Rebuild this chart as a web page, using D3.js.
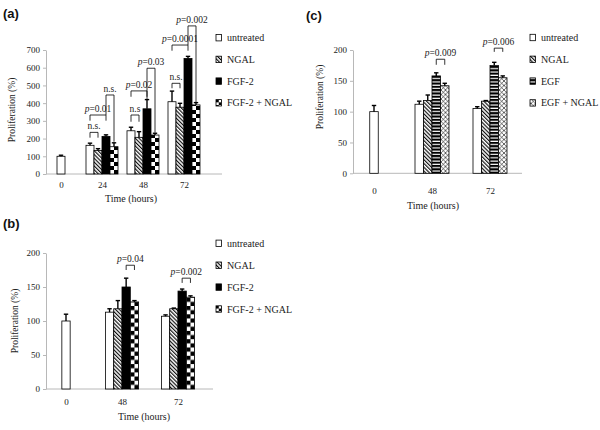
<!DOCTYPE html>
<html><head><meta charset="utf-8">
<script src="https://cdn.jsdelivr.net/npm/d3@7"></script>
<style>body{margin:0;background:#fff} svg{display:block} text{font-family:"Liberation Serif","Times New Roman",serif}</style>
</head><body><svg id="chart" width="600" height="430"></svg>
<script>
// ---------- DATA ----------
// Panel (a)
const hoursA = ["0","24","48","72"];
const seriesA = ["untreated","NGAL","FGF-2","FGF-2 + NGAL"];
const untreatedA = [100,162,244,408];
const untreatedErrA = [6,12,20,60];
const ngalA = [null,133,207,377];
const ngalErrA = [null,10,32,22];
const fgf2A = [null,212,368,652];
const fgf2ErrA = [null,9,52,12];
const fgf2NgalA = [null,154,220,390];
const fgf2NgalErrA = [null,22,10,13];
const yTicksA = [0,100,200,300,400,500,600,700];
const bracketsA = [
  {hour:"24", from:0, to:1, top:235, leftEnd:205, rightEnd:205, label:"n.s."},
  {hour:"24", from:0, to:2, top:333, leftEnd:301, rightEnd:301, label:"p=0.01"},
  {hour:"24", from:2, to:3, top:446, leftEnd:333, rightEnd:182, label:"n.s."},
  {hour:"48", from:0, to:1, top:333, leftEnd:295, rightEnd:295, label:"n.s"},
  {hour:"48", from:0, to:2, top:469, leftEnd:436, rightEnd:436, label:"p=0.02"},
  {hour:"48", from:2, to:3, top:597, leftEnd:422, rightEnd:233, label:"p=0.03"},
  {hour:"72", from:0, to:1, top:512, leftEnd:484, rightEnd:484, label:"n.s."},
  {hour:"72", from:0, to:2, top:728, leftEnd:696, rightEnd:696, label:"p=0.0001"},
  {hour:"72", from:2, to:3, top:836, leftEnd:728, rightEnd:401, label:"p=0.002"}
];
// Panel (b)
const hoursB = ["0","48","72"];
const seriesB = ["untreated","NGAL","FGF-2","FGF-2 + NGAL"];
const untreatedB = [100,113,107];
const untreatedErrB = [10,5,2];
const ngalB = [null,118,118];
const ngalErrB = [null,12,1];
const fgf2B = [null,150,144];
const fgf2ErrB = [null,13,3];
const fgf2NgalB = [null,128,135];
const fgf2NgalErrB = [null,2,2];
const yTicksB = [0,50,100,150,200];
const bracketsB = [
  {hour:"48", from:2, to:3, top:182, leftEnd:175, rightEnd:175, label:"p=0.04"},
  {hour:"72", from:2, to:3, top:163, leftEnd:156, rightEnd:156, label:"p=0.002"}
];
// Panel (c)
const hoursC = ["0","48","72"];
const seriesC = ["untreated","NGAL","EGF","EGF + NGAL"];
const untreatedC = [100,112,105];
const untreatedErrC = [10,5,3];
const ngalC = [null,118,117];
const ngalErrC = [null,9,1];
const egfC = [null,158,175];
const egfErrC = [null,5,5];
const egfNgalC = [null,142,155];
const egfNgalErrC = [null,4,3];
const yTicksC = [0,50,100,150,200];
const bracketsC = [
  {hour:"48", from:2, to:3, top:185, leftEnd:176, rightEnd:176, label:"p=0.009"},
  {hour:"72", from:2, to:3, top:203, leftEnd:197, rightEnd:197, label:"p=0.006"}
];

// ---------- DRAWING ----------
const svg = d3.select("#chart");
const defs = svg.append("defs");
const SERIF = "'Liberation Serif','Times New Roman',serif";

(function(){
  const p = defs.append("pattern").attr("id","hatch").attr("patternUnits","userSpaceOnUse")
    .attr("width",2.7).attr("height",2.7).attr("patternTransform","rotate(-45)");
  p.append("rect").attr("width",2.7).attr("height",2.7).attr("fill","#fff");
  p.append("line").attr("x1",0.6).attr("x2",0.6).attr("y1",0).attr("y2",2.7)
    .attr("stroke","#000").attr("stroke-width",1.1);
  const s = defs.append("pattern").attr("id","hstripe").attr("patternUnits","userSpaceOnUse")
    .attr("width",4).attr("height",3.3);
  s.append("rect").attr("width",4).attr("height",3.3).attr("fill","#fff");
  s.append("rect").attr("width",4).attr("height",2.1).attr("fill","#000");
  const x = defs.append("pattern").attr("id","xhatch").attr("patternUnits","userSpaceOnUse")
    .attr("width",4.5).attr("height",4.5);
  x.append("rect").attr("width",4.5).attr("height",4.5).attr("fill","#fff");
  x.append("path").attr("d","M0,0L4.5,4.5M4.5,0L0,4.5").attr("stroke","#000").attr("stroke-width",0.6);
})();
let chk = 0;
function checker(x, y, size){
  const id = "chk" + (chk++);
  const p = defs.append("pattern").attr("id",id).attr("patternUnits","userSpaceOnUse")
    .attr("x",x).attr("y",y).attr("width",size*2).attr("height",size*2);
  p.append("rect").attr("width",size*2).attr("height",size*2).attr("fill","#fff");
  p.append("rect").attr("width",size).attr("height",size).attr("fill","#000");
  p.append("rect").attr("x",size).attr("y",size).attr("width",size).attr("height",size).attr("fill","#000");
  return "url(#" + id + ")";
}
function fillFor(kind, x, y, w){
  if (kind === "white") return "#fff";
  if (kind === "hatch") return "url(#hatch)";
  if (kind === "black") return "#000";
  if (kind === "checker") return checker(x, y, w/2);
  if (kind === "hstripe") return "url(#hstripe)";
  if (kind === "xhatch") return "url(#xhatch)";
}
function serif(sel, size){
  return sel.style("font-family",SERIF).style("font-size",size+"px").attr("fill","#222");
}

const panels = [
  { label:"(a)", labelPos:[3,17.5], cats:hoursA, names:seriesA,
    values:[untreatedA,ngalA,fgf2A,fgf2NgalA], errs:[untreatedErrA,ngalErrA,fgf2ErrA,fgf2NgalErrA],
    kinds:["white","hatch","black","checker"], brackets:bracketsA, ticks:yTicksA,
    xr:[61,184], ydom:[0,700], yr:[174,50], axisX:[46,222], bw:8,
    yTitle:[12,110], xTitle:[131,202], xPad:8, legend:[216,37.7,21.7] },
  { label:"(b)", labelPos:[3,227.5], cats:hoursB, names:seriesB,
    values:[untreatedB,ngalB,fgf2B,fgf2NgalB], errs:[untreatedErrB,ngalErrB,fgf2ErrB,fgf2NgalErrB],
    kinds:["white","hatch","black","checker"], brackets:bracketsB, ticks:yTicksB,
    xr:[66,178], ydom:[0,200], yr:[389,253], axisX:[46,213], bw:8.3,
    yTitle:[15,321], xTitle:[144,419.5], xPad:9.5, legend:[216,243.3,21.9] },
  { label:"(c)", labelPos:[306,19.5], cats:hoursC, names:seriesC,
    values:[untreatedC,ngalC,egfC,egfNgalC], errs:[untreatedErrC,ngalErrC,egfErrC,egfNgalErrC],
    kinds:["white","hatch","hstripe","xhatch"], brackets:bracketsC, ticks:yTicksC,
    xr:[374,490], ydom:[0,200], yr:[173.3,50], axisX:[353,522], bw:8.5,
    yTitle:[320,97], xTitle:[433,209], xPad:14, legend:[530,37.5,21.8] }
];

panels.forEach(P => {
  const g = svg.append("g");
  const x = d3.scalePoint().domain(P.cats).range(P.xr);
  const y = d3.scaleLinear().domain(P.ydom).range(P.yr);
  const bw = P.bw;

  const ya = g.append("g").attr("transform",`translate(${P.axisX[0]},0)`)
    .call(d3.axisLeft(y).tickValues(P.ticks).tickSize(3).tickSizeOuter(0).tickPadding(3));
  ya.select(".domain").attr("stroke","#b8b8b8");
  ya.selectAll(".tick line").attr("stroke","#b8b8b8");
  serif(ya.selectAll("text"), 9);

  const xa = g.append("g").attr("transform",`translate(0,${y(0)})`)
    .call(d3.axisBottom(x).tickSize(0).tickPadding(P.xPad));
  xa.select(".domain").remove();
  serif(xa.selectAll("text"), 9);
  g.append("line").attr("x1",P.axisX[0]).attr("x2",P.axisX[1]).attr("y1",y(0)).attr("y2",y(0))
    .attr("stroke","#b8b8b8").attr("stroke-width",1);

  const barPos = {};
  P.cats.forEach((c, ci) => {
    const idx = P.values.map((arr,si)=>arr[ci]==null?null:si).filter(v=>v!=null);
    const start = x(c) - idx.length*bw/2;
    barPos[c] = {};
    idx.forEach((si, k) => {
      const v = P.values[si][ci], e = P.errs[si][ci];
      const bx = start + k*bw;
      barPos[c][si] = bx + bw/2;
      g.append("rect").attr("x",bx).attr("y",y(v)).attr("width",bw).attr("height",y(0)-y(v))
        .attr("fill",fillFor(P.kinds[si], bx, y(0), bw)).attr("stroke","#000").attr("stroke-width",0.8);
      if (e) {
        const cx = bx + bw/2;
        g.append("line").attr("x1",cx).attr("x2",cx).attr("y1",y(v)).attr("y2",y(v+e))
          .attr("stroke","#000").attr("stroke-width",1.4);
        g.append("line").attr("x1",cx-2.2).attr("x2",cx+2.2).attr("y1",y(v+e)).attr("y2",y(v+e))
          .attr("stroke","#000").attr("stroke-width",1.4);
      }
    });
  });

  P.brackets.forEach(b => {
    const x1 = barPos[b.hour][b.from], x2 = barPos[b.hour][b.to];
    g.append("path")
      .attr("d",`M${x1},${y(b.leftEnd)}V${y(b.top)}H${x2}V${y(b.rightEnd)}`)
      .attr("fill","none").attr("stroke","#000").attr("stroke-width",0.8);
    const t = serif(g.append("text"), 9.5).attr("x",(x1+x2)/2).attr("y",y(b.top)-3)
      .attr("text-anchor","middle");
    if (b.label.startsWith("p")) {
      t.append("tspan").style("font-style","italic").text("p");
      t.append("tspan").text(b.label.slice(1));
    } else t.text(b.label);
  });

  serif(g.append("text"), 9.5).attr("transform",`translate(${P.yTitle[0]},${P.yTitle[1]}) rotate(-90)`)
    .attr("text-anchor","middle").attr("dy","0.35em").text("Proliferation (%)");
  serif(g.append("text"), 10).attr("x",P.xTitle[0]).attr("y",P.xTitle[1]).attr("text-anchor","middle")
    .text("Time (hours)");

  g.append("text").attr("x",P.labelPos[0]).attr("y",P.labelPos[1])
    .style("font-family","'Liberation Sans',Arial,sans-serif").style("font-weight","bold")
    .style("font-size","13px").attr("fill","#111").text(P.label);

  P.names.forEach((n, i) => {
    const ly = P.legend[1] + i*P.legend[2];
    const lx = P.legend[0];
    g.append("rect").attr("x",lx).attr("y",ly-3.2).attr("width",5.5).attr("height",6.4)
      .attr("fill",fillFor(P.kinds[i], lx, ly-3.2, 5.5)).attr("stroke","#000").attr("stroke-width",0.8);
    serif(g.append("text"), 10).attr("x",lx+11).attr("y",ly).attr("dy","0.35em").text(n);
  });
});
</script></body></html>
